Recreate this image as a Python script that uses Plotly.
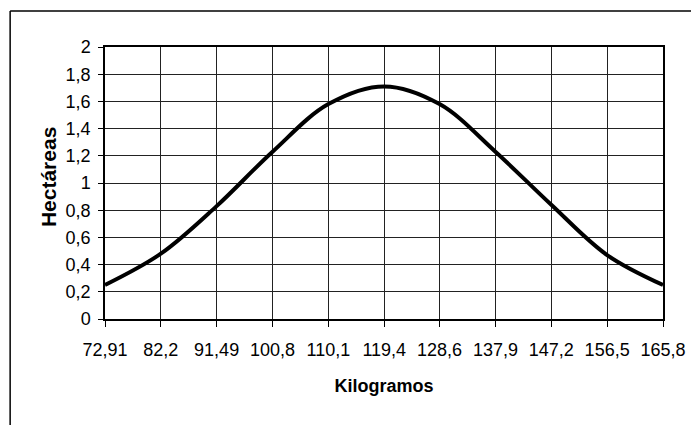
import plotly.graph_objects as go

# Kilogramos vs Hectáreas
kilos = [72.91, 82.2, 91.49, 100.8, 110.1, 119.4, 128.6, 137.9, 147.2, 156.5, 165.8]
kilo_labels = ["72,91", "82,2", "91,49", "100,8", "110,1", "119,4",
               "128,6", "137,9", "147,2", "156,5", "165,8"]
hectareas = [0.25, 0.48, 0.83, 1.23, 1.58, 1.71, 1.58, 1.23, 0.84, 0.47, 0.25]

y_ticks = [0, 0.2, 0.4, 0.6, 0.8, 1, 1.2, 1.4, 1.6, 1.8, 2]
y_labels = ["0", "0,2", "0,4", "0,6", "0,8", "1", "1,2", "1,4", "1,6", "1,8", "2"]

FONT = "Liberation Sans, Arial, sans-serif"

fig = go.Figure(go.Scatter(
    x=kilos,
    y=hectareas,
    mode="lines",
    line=dict(color="black", width=4, shape="spline", smoothing=1),
    hoverinfo="skip",
))

# the page body adds an 8px offset, so margins are shifted by that
fig.update_layout(
    width=699,
    height=425,
    margin=dict(l=97, r=44, t=39, b=114),
    paper_bgcolor="white",
    plot_bgcolor="white",
    showlegend=False,
    font=dict(family=FONT, size=18, color="black"),
    xaxis=dict(
        range=[kilos[0], kilos[-1]],
        tickvals=kilos,
        ticktext=kilo_labels,
        showgrid=True,
        gridcolor="#222222",
        gridwidth=1,
        showline=True,
        linecolor="black",
        linewidth=1.5,
        mirror=True,
        ticks="outside",
        ticklen=6,
        tickcolor="black",
        ticklabelstandoff=8,
        zeroline=False,
        automargin=False,
        title=dict(text="<b>Kilogramos</b>", font=dict(size=18), standoff=20),
    ),
    yaxis=dict(
        range=[0, 2],
        tickvals=y_ticks,
        ticktext=y_labels,
        showgrid=True,
        gridcolor="#222222",
        gridwidth=1,
        showline=True,
        linecolor="black",
        linewidth=1.5,
        mirror=True,
        ticks="outside",
        ticklen=5,
        tickcolor="black",
        ticklabelstandoff=4,
        zeroline=False,
        automargin=False,
    ),
)

# y-axis title placed to match the scan
fig.add_annotation(
    text="<b>Hectáreas</b>",
    xref="paper", yref="paper",
    x=-0.102, y=0.522,
    xanchor="center", yanchor="middle",
    textangle=-90,
    showarrow=False,
    font=dict(size=21),
)

# outer chart-area frame (cut off at the right and bottom in the scan)
fig.add_shape(type="line", xref="paper", yref="paper",
              x0=-0.17, x1=1.2, y0=1.132, y1=1.132,
              line=dict(color="black", width=1.5))
fig.add_shape(type="line", xref="paper", yref="paper",
              x0=-0.17, x1=-0.17, y0=1.132, y1=-0.5,
              line=dict(color="black", width=1.5))

fig.write_html("out.html")
